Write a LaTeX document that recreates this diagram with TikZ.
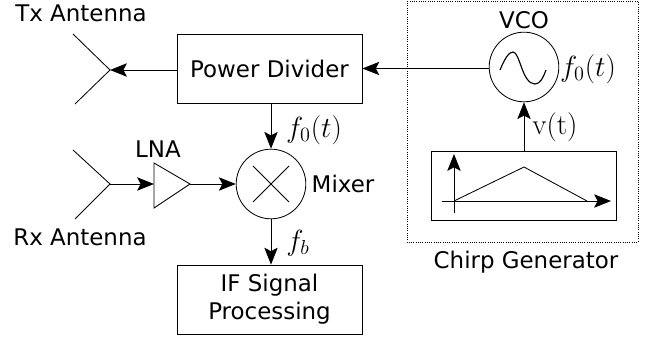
\documentclass[tikz,border=0pt]{standalone}
\usepackage{amsmath}
\usepackage[no-math]{fontspec}
\setmainfont{DejaVu Sans}
\usetikzlibrary{arrows.meta}

\tikzset{
  block/.style={draw, minimum width=4.625cm, minimum height=1.725cm, align=center, inner sep=0pt},
  txt/.style={font=\fontsize{16.3}{20}\selectfont, inner sep=0pt},
  mathtxt/.style={font=\fontsize{20}{24}\selectfont, inner sep=0pt},
  sig/.style={-{Stealth[inset=2.5pt, length=12pt, width=9.5pt]}},
  ckt/.style={draw, circle, minimum size=1.74cm, inner sep=0pt},
}

\begin{document}
\begin{tikzpicture}[x=0.025cm, y=-0.025cm, line width=0.6pt]
  \useasboundingbox (0,0) rectangle (646,340);

  % boxes
  \node[block, txt] (divider) at (269.5,68.5) {Power Divider};
  \node[block, txt] (ifproc) at (269.5,299.5) {IF Signal\\Processing};
  \node[ckt] (mixer) at (271,184) {};
  \node[ckt] (vco) at (524,67) {};
  \node[block] (chirp) at (523.5,185.5) {};
  \draw[densely dotted] (407,1) rectangle (638,242);

  % antennas
  \coordinate (txtip) at (110,70);
  \coordinate (rxtip) at (110,184);
  \draw (73,34) -- (txtip) -- (75,104);
  \draw (73,150) -- (rxtip) -- (75,219);

  % LNA
  \coordinate (lnain) at (154,184);
  \coordinate (lnaout) at (190,184);
  \draw (154,163) -- (lnaout) -- (154,208) -- cycle;

  % mixer cross and oscillator wave
  \draw (253,166) -- (289,202);
  \draw (253,202) -- (289,166);
  \draw[line width=0.8pt] (500,70) .. controls (505,58) and (509,52) .. (513,52)
    .. controls (520,52) and (522,84) .. (535,84)
    .. controls (540,84) and (543,78) .. (546,70);

  % connectors
  \draw[sig] (divider.west |- txtip) -- (txtip);
  \draw[sig] (vco.west |- divider.east) -- (divider.east);
  \draw[sig] (divider.south -| mixer.north) -- (mixer.north);
  \draw[sig] (rxtip) -- (lnain);
  \draw[sig] (lnaout) -- (mixer.west);
  \draw[sig] (mixer.south) -- (ifproc.north -| mixer.south);
  \draw[sig] (chirp.north -| vco.south) -- (vco.south);

  % chirp plot
  \draw[sig] (454,213) -- (454,154);
  \draw[sig] (442,201) -- (611,201);
  \draw (454,201) -- (524,167) -- (587,201);

  % labels
  \node[txt] (txlabel) at (81,13) {Tx Antenna};
  \node[txt] (rxlabel) at (80,237) {Rx Antenna};
  \node[txt] (lnalabel) at (158,149) {LNA};
  \node[txt] (mixerlabel) at (343,184) {Mixer};
  \node[txt] (vcolabel) at (524,20) {VCO};
  \node[txt] (chirplabel) at (526,262) {Chirp Generator};
  \node[mathtxt] (fzeromix) at (314,130) {$f_0(t)$};
  \node[mathtxt] (fzerovco) at (588,69) {$f_0(t)$};
  \node[mathtxt] (fbeat) at (298,243) {$f_b$};
  \node[mathtxt] (vt) at (555,127) {$\mathrm{v(t)}$};
\end{tikzpicture}
\end{document}
